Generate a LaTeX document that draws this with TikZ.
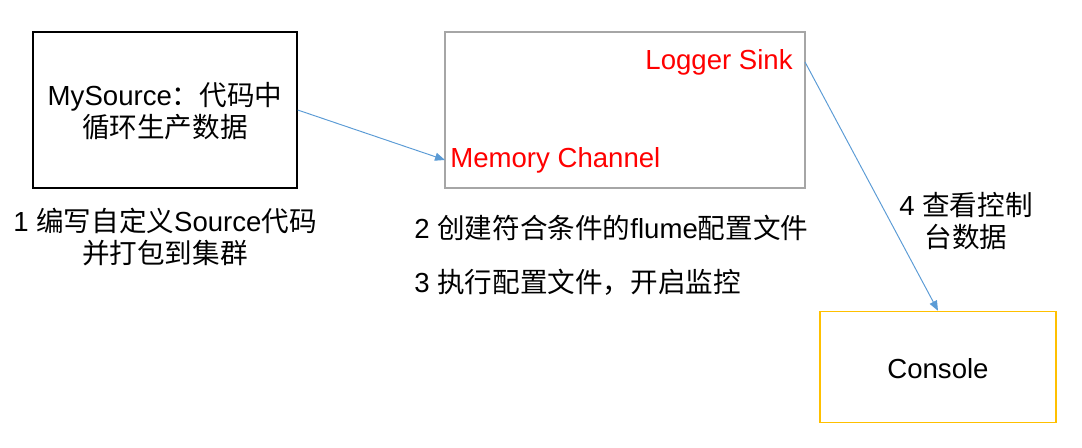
\documentclass[tikz,border=0pt]{standalone}
\usepackage{fontspec}
\setmainfont{Liberation Sans}
\newfontfamily\cjk{Noto Sans CJK SC}
\usetikzlibrary{arrows.meta}
\definecolor{linkblue}{HTML}{5B9BD5}
\definecolor{boxgray}{HTML}{A6A6A6}
\definecolor{boxgold}{HTML}{FFC000}
\tikzset{
	txt/.style={font=\fontsize{15.7}{18.6}\selectfont, inner sep=0pt, align=center},
	redtxt/.style={txt, text=red},
	link/.style={draw=linkblue, line width=0.55pt, -{Triangle[length=0.2cm,width=0.16cm]}},
}
\begin{document}
\begin{tikzpicture}[x=0.02cm,y=-0.02cm]
			%%%%% START %%%%%
			\useasboundingbox (0, 0) rectangle (1082, 447);
			
			\node[draw=black, line width=0.85pt, minimum width=5.28cm, minimum height=3.12cm] (src) at (165, 110) {};
			\node[txt] (srctxt) at (165, 111) {MySource{\cjk ：代码中}\\{\cjk 循环生产数据}};
			
			\node[draw=boxgray, line width=0.85pt, minimum width=7.2cm, minimum height=3.12cm] (agent) at (625, 110) {};
			\node[redtxt, anchor=east, inner xsep=0.24cm] (sink) at (805, 62) {Logger Sink};
			\node[redtxt, anchor=west, inner xsep=0.1cm] (mem) at (445, 160) {Memory Channel};
			
			\node[draw=boxgold, line width=0.85pt, minimum width=4.72cm, minimum height=2.22cm] (console) at (938, 367) {};
			\node[txt] (consoletxt) at (938, 369) {Console};
			
			\node[txt] (step1) at (165, 237) {1 {\cjk 编写自定义}Source{\cjk 代码}\\{\cjk 并打包到集群}};
			\node[txt, anchor=west] (step2) at (414, 228) {2 {\cjk 创建符合条件的}flume{\cjk 配置文件}};
			\node[txt, anchor=west] (step3) at (414, 282) {3 {\cjk 执行配置文件，开启监控}};
			\node[txt] (step4) at (966, 221) {4 {\cjk 查看控制}\\{\cjk 台数据}};
			
			\draw[link] (src.east |- 0, 110) -- (mem.west);
			\draw[link] (sink.east) -- (console.north);
			%%%%% END %%%%%
\end{tikzpicture}
\end{document}
